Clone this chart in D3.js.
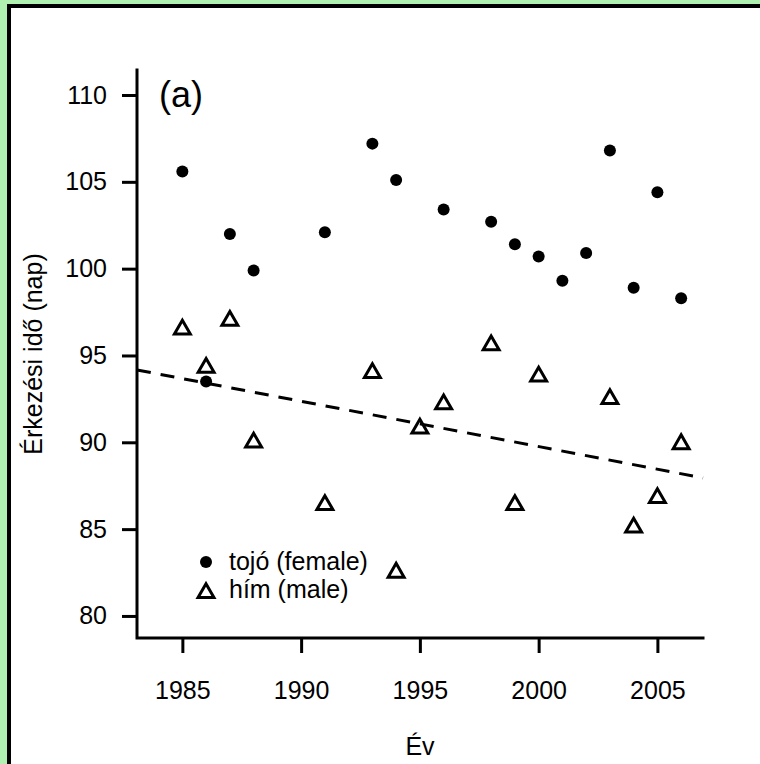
<!DOCTYPE html>
<html><head><meta charset="utf-8">
<script src="https://cdn.jsdelivr.net/npm/d3@7"></script>
<style>
html,body{margin:0;padding:0;background:#fff;overflow:hidden;width:760px;height:764px;}
svg{display:block;overflow:hidden;}
text{font-family:"Liberation Sans",Arial,Helvetica,sans-serif;fill:#000;}
</style></head><body>
<script>
// ---- data ----
const femaleYears = [1985,1986,1987,1988,1991,1993,1994,1996,1998,1999,2000,2001,2002,2003,2004,2005,2006];
const femaleValues = [105.6,93.5,102.0,99.9,102.1,107.2,105.1,103.4,102.7,101.4,100.7,99.3,100.9,106.8,98.9,104.4,98.3];
const maleYears = [1985,1986,1987,1988,1991,1993,1994,1995,1996,1998,1999,2000,2003,2004,2005,2006];
const maleValues = [96.5,94.3,97.0,90.0,86.4,94.0,82.5,90.8,92.2,95.6,86.4,93.8,92.5,85.1,86.8,89.9];
const xTicks = [1985,1990,1995,2000,2005];
const yTicks = [80,85,90,95,100,105,110];
const trendAt1995 = 91.06;   // fitted line value at 1995
const trendSlope = -0.261;   // days per year
const legendLabels = ["tojó (female)","hím (male)"];
const xTitle = "Év";
const yTitle = "Érkezési idő (nap)";
const panelLabel = "(a)";

// ---- layout ----
const W = 760, H = 764;
const L = 137, R = 703, T = 70, B = 638;
const svg = d3.select("body").append("svg").attr("width",W).attr("height",H);

// outer green margin only on left and top; white panel runs off the right/bottom edges
svg.append("rect").attr("x",0).attr("y",0).attr("width",7).attr("height",H).attr("fill","#b0f0b0");
svg.append("rect").attr("x",0).attr("y",0).attr("width",W).attr("height",4).attr("fill","#b0f0b0");
svg.append("rect").attr("x",7).attr("y",4).attr("width",W+40).attr("height",H+40).attr("fill","#fff");
svg.append("path").attr("d",`M9,${H+20}V6H${W+20}`).attr("fill","none").attr("stroke","#000").attr("stroke-width",4);

const x = d3.scaleLinear().domain([1983.09,2006.92]).range([L,R]);
const y = d3.scaleLinear().domain([78.73,111.44]).range([B,T]);

// axes (L-shaped box)
svg.append("path").attr("d",`M${L},${T}V${B}H${R}`).attr("fill","none")
  .attr("stroke","#000").attr("stroke-width",3).attr("stroke-linecap","square");

const xAxis = d3.axisBottom(x).tickValues(xTicks).tickSize(15).tickPadding(28).tickFormat(d3.format("d"));
const gx = svg.append("g").attr("transform",`translate(0,${B})`).call(xAxis);
gx.select(".domain").remove();
gx.selectAll(".tick line").attr("stroke","#000").attr("stroke-width",3);
gx.selectAll(".tick text").attr("font-size",25).attr("font-family","Liberation Sans, Arial, sans-serif").attr("dy","0.71em").attr("y",43);

const yAxis = d3.axisLeft(y).tickValues(yTicks).tickSize(15).tickPadding(15);
const gy = svg.append("g").attr("transform",`translate(${L},0)`).call(yAxis);
gy.select(".domain").remove();
gy.selectAll(".tick line").attr("stroke","#000").attr("stroke-width",3);
gy.selectAll(".tick text").attr("font-size",25).attr("font-family","Liberation Sans, Arial, sans-serif").attr("x",-30);

// trend line across plot (abline)
const xd = x.domain();
svg.append("line")
  .attr("x1",x(xd[0])).attr("y1",y(trendAt1995 + trendSlope*(xd[0]-1995)))
  .attr("x2",x(xd[1])).attr("y2",y(trendAt1995 + trendSlope*(xd[1]-1995)))
  .attr("stroke","#000").attr("stroke-width",3).attr("stroke-dasharray","14,10");

// triangle path (R pch=2 geometry, centroid at point)
function tri(cx, cy, s){
  const r = 1.555*s, xc = 1.347*s, yc = 0.778*s;
  return `M${cx},${cy-r}L${cx+xc},${cy+yc}L${cx-xc},${cy+yc}Z`;
}
const triS = 5.9;

// female points
svg.append("g").selectAll("circle").data(femaleYears.map((d,i)=>[d,femaleValues[i]]))
  .join("circle").attr("cx",d=>x(d[0])).attr("cy",d=>y(d[1])).attr("r",6).attr("fill","#000");

// male points
svg.append("g").selectAll("path").data(maleYears.map((d,i)=>[d,maleValues[i]]))
  .join("path").attr("d",d=>tri(x(d[0]),y(d[1]),triS))
  .attr("fill","none").attr("stroke","#000").attr("stroke-width",3).attr("stroke-linejoin","miter");

// legend
svg.append("circle").attr("cx",206).attr("cy",562).attr("r",6).attr("fill","#000");
svg.append("text").attr("x",229).attr("y",570).attr("font-size",25).text(legendLabels[0]);
svg.append("path").attr("d",tri(206,593,triS)).attr("fill","none").attr("stroke","#000").attr("stroke-width",3);
svg.append("text").attr("x",229).attr("y",598).attr("font-size",25).text(legendLabels[1]);

// panel label
svg.append("text").attr("x",159).attr("y",107).attr("font-size",36).text(panelLabel);

// axis titles
svg.append("text").attr("x",(L+R)/2).attr("y",755).attr("text-anchor","middle").attr("font-size",25).text(xTitle);
svg.append("text").attr("transform",`translate(42,${(T+B)/2}) rotate(-90)`).attr("text-anchor","middle").attr("font-size",25).text(yTitle);
</script>
</body></html>
